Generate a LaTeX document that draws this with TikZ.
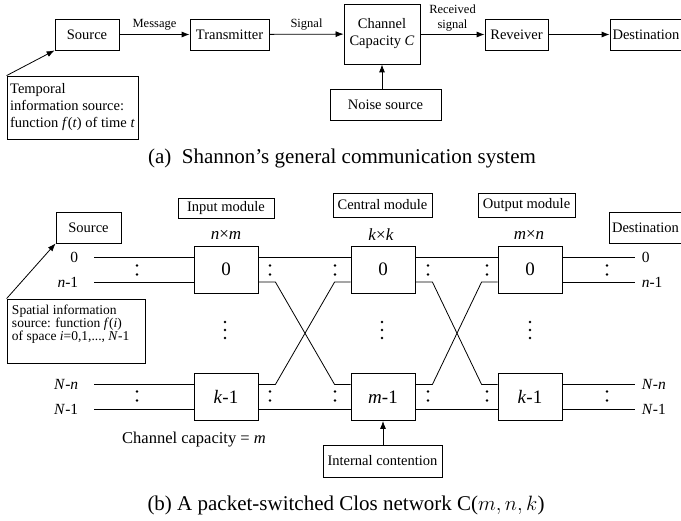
\documentclass[tikz,border=0pt]{standalone}
\usepackage{fontspec}
\setmainfont{Liberation Serif}
\usetikzlibrary{arrows.meta,positioning}

\tikzset{
  blk/.style={draw, inner sep=0pt, font=\fontsize{14.5}{17}\selectfont},
  modbox/.style={draw, minimum width=64pt, minimum height=47pt, font=\fontsize{19}{22}\selectfont},
  lbl/.style={inner sep=1pt, font=\fontsize{12.5}{15}\selectfont},
  port/.style={inner sep=0pt, font=\fontsize{15.5}{18}\selectfont},
  dimtxt/.style={inner sep=0pt, font=\fontsize{17}{20}\selectfont},
  captxt/.style={inner sep=0pt, font=\fontsize{21}{25}\selectfont},
}

\begin{document}
\begin{tikzpicture}[x=1pt, y=-1pt, line width=0.8pt, >={Latex[length=8pt,width=6pt]}]
\useasboundingbox (0,0) rectangle (681,521);

% (a) Shannon's system
\node[blk, minimum width=64pt, minimum height=31pt] (srcA) at (87,34.5) {Source};
\node[blk, minimum width=79pt, minimum height=31pt] (tx) at (229.5,34.5) {Transmitter};
\node[blk, minimum width=76pt, minimum height=60pt, align=center] (chan) at (382,34) {Channel\\Capacity \textit{C}};
\node[blk, minimum width=63pt, minimum height=31pt] (rx) at (516.5,34.5) {Reveiver};
\node[blk, minimum width=72pt, minimum height=31pt] (dstA) at (646,34.5) {Destination};
\node[blk, minimum width=111pt, minimum height=31pt] (noise) at (385.5,104.5) {Noise source};
\node[blk, minimum width=131pt, minimum height=63pt, align=left] (temporal) at (72.5,107.5)
  {Temporal\\information source:\\function \textit{f}(\textit{t}) of time \textit{t}};

\draw[->] (srcA) -- node[lbl, above=3pt] (msg) {Message} (tx);
\draw[->] (tx) -- node[lbl, above=3pt] (sig) {Signal} (chan);
\draw[->] (chan.east |- rx.west) -- node[lbl, above=2pt, align=center] (rsig) {Received\\signal} (rx);
\draw[->] (rx) -- (dstA);
\draw[->] (noise.north -| chan.south) -- (chan.south);
\draw[->] (temporal.north west) -- (srcA.south west);

\node[captxt] (capA) at (342,158) {(a)\enspace Shannon’s general communication system};

% (b) Clos network
\node[blk, minimum width=65pt, minimum height=31pt] (srcB) at (88.5,227.5) {Source};
\node[blk, minimum width=96pt, minimum height=20pt] (inmod) at (226,208.5) {Input module};
\node[blk, minimum width=99pt, minimum height=24pt] (cenmod) at (382.5,205) {Central module};
\node[blk, minimum width=97pt, minimum height=24pt] (outmod) at (526.5,205) {Output module};
\node[blk, minimum width=73pt, minimum height=31pt] (dstB) at (645.5,227.5) {Destination};

\node[dimtxt] (szin) at (226,235) {\textit{n}×\textit{m}};
\node[dimtxt] (szcen) at (381,235) {\textit{k}×\textit{k}};
\node[dimtxt] (szout) at (529,235) {\textit{m}×\textit{n}};

\node[modbox] (in0) at (226,269.5) {0};
\node[modbox] (in1) at (226,397) {\textit{k}-1};
\node[modbox] (cen0) at (383,269.5) {0};
\node[modbox] (cen1) at (383,397) {\textit{m}-1};
\node[modbox] (out0) at (530,269.5) {0};
\node[modbox] (out1) at (530,397) {\textit{k}-1};

% inputs and outputs
\draw ([yshift=12.5pt]in0.west) -- ++(-100,0) node[port, left=15pt] (pin0) {0};
\draw ([yshift=-12.5pt]in0.west) -- ++(-100,0) node[port, left=15pt] (pin1) {\textit{n}-1};
\draw ([yshift=12.5pt]in1.west) -- ++(-100,0) node[port, left=15pt] (pin2) {\textit{N}-\textit{n}};
\draw ([yshift=-12.5pt]in1.west) -- ++(-100,0) node[port, left=15pt] (pin3) {\textit{N}-1};
\draw ([yshift=12.5pt]out0.east) -- ++(73,0) node[port, right=6pt] (pout0) {0};
\draw ([yshift=-12.5pt]out0.east) -- ++(73,0) node[port, right=6pt] (pout1) {\textit{n}-1};
\draw ([yshift=12.5pt]out1.east) -- ++(73,0) node[port, right=6pt] (pout2) {\textit{N}-\textit{n}};
\draw ([yshift=-12.5pt]out1.east) -- ++(73,0) node[port, right=6pt] (pout3) {\textit{N}-1};

% links between stages
\foreach \a/\b in {in/cen, cen/out} {
  \draw ([yshift=12.5pt]\a0.east) -- ([yshift=12.5pt]\b0.west);
  \draw ([yshift=-12.5pt]\a1.east) -- ([yshift=-12.5pt]\b1.west);
  \draw ([yshift=-12.5pt]\a0.east) -- ++(17,0) -- ([xshift=-16pt,yshift=12.5pt]\b1.west) -- ([yshift=12.5pt]\b1.west);
  \draw ([yshift=12.5pt]\a1.east) -- ++(17,0) -- ([xshift=-16pt,yshift=-12.5pt]\b0.west) -- ([yshift=-12.5pt]\b0.west);
}

% dots
\foreach \x in {137,270,335,428,487,607}
  \foreach \y in {270,396}
    \fill (\x,\y-4.5) circle (1.4) (\x,\y+4.5) circle (1.4);
\foreach \x in {225,382,530}
  \foreach \y in {322,330,338}
    \fill (\x,\y) circle (1.4);

\node[blk, minimum width=138pt, minimum height=64pt] (spatial) at (76,331) {};
\node[anchor=north west, align=left, inner sep=0pt, font=\fontsize{13.5}{13}\selectfont]
  (spatialtxt) at ([xshift=5pt,yshift=-6pt]spatial.north west)
  {Spatial information\\source: function \textit{f}(\textit{i})\\of space \textit{i}=0,1,..., \textit{N}-1};
\draw[->] (spatial.north west) -- (srcB.south west);

\node[inner sep=0pt, font=\fontsize{16.5}{19}\selectfont] (capm) at (194,440) {Channel capacity = \textit{m}};
\node[blk, minimum width=119pt, minimum height=32pt] (intc) at (382.5,461) {Internal contention};
\draw[->] (intc.north -| cen1.south) -- (cen1.south);

\node[captxt] (capB) at (346,505) {(b) A packet-switched Clos network C($m, n, k$)};
\end{tikzpicture}
\end{document}
